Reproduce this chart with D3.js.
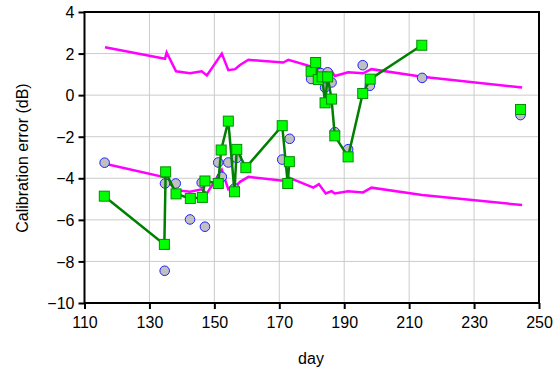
<!DOCTYPE html>
<html>
<head>
<meta charset="utf-8">
<script src="https://cdn.jsdelivr.net/npm/d3@7"></script>
<style>
  body { margin: 0; background: #fff; }
  text { font-family: "Liberation Sans", Arial, sans-serif; }
</style>
</head>
<body>
<svg id="chart" width="560" height="371"></svg>
<script>
// tick values
const xTicks = [110, 130, 150, 170, 190, 210, 230, 250];
const yTicks = [4, 2, 0, -2, -4, -6, -8, -10];

// magenta envelope (shared days)
const boundDays  = [116.3, 134.8, 135.3, 138.2, 142.5, 146.1, 147.7, 152.3, 154.3, 156.4, 157.9, 160.5, 171.2, 172.8, 180.5, 182.2, 184.3, 186.1, 187.1, 191.2, 195.8, 198.4, 214.0, 244.8];
const upperBound = [2.3, 1.75, 2.05, 1.15, 1.05, 1.15, 0.95, 2.0, 1.2, 1.25, 1.45, 1.7, 1.57, 1.7, 1.35, 1.25, 1.1, 1.15, 0.92, 1.1, 1.05, 1.25, 0.88, 0.37];
const lowerBound = [-3.3, -3.95, -4.1, -4.57, -4.65, -4.53, -4.73, -3.6, -4.53, -4.4, -4.17, -3.93, -4.12, -3.96, -4.45, -4.28, -4.73, -4.62, -4.73, -4.62, -4.68, -4.45, -4.8, -5.29];

// circles
const circleDays = [116.2, 134.7, 134.8, 138.1, 142.5, 146.1, 147.1, 151.2, 152.3, 154.3, 156.2, 156.9, 170.9, 173.2, 179.8, 182.8, 184.1, 184.9, 186.1, 187.1, 191.2, 195.7, 197.9, 214.0, 244.3];
const circleVals = [-3.25, -8.45, -4.25, -4.25, -5.98, -4.21, -6.33, -3.24, -3.93, -3.24, -4.49, -3.02, -3.1, -2.1, 0.78, 1.06, 0.36, 1.1, 0.61, -1.78, -2.6, 1.44, 0.45, 0.83, -0.96];

// squares, null = break in line
const squareDays = [116.1, 134.6, 135.0, 138.2, 142.6, 146.3, 147.1, 151.2, 152.1, 154.3, 156.2, 156.9, 159.7, 170.9, 172.6, 173.1, null,
                    179.8, 181.2, 182.0, 183.2, 184.1, 184.9, 186.1, 187.1, 191.2, 195.7, 198.0, 213.9, null, 244.3];
const squareVals = [-4.86, -7.18, -3.69, -4.75, -4.97, -4.92, -4.13, -4.25, -2.64, -1.25, -4.65, -2.61, -3.49, -1.47, -4.25, -3.2, null,
                    1.15, 1.57, 0.75, 0.88, -0.37, 0.88, -0.19, -1.96, -2.97, 0.08, 0.77, 2.4, null, -0.69];

const plotL = 84.5, plotR = 539, plotT = 12, plotB = 303;

const svg = d3.select('#chart');
const x = d3.scaleLinear().domain([110, 250]).range([plotL, plotR]);
const y = d3.scaleLinear().domain([-10, 4]).range([plotB, plotT]);

// grid
svg.append('g')
  .selectAll('line')
  .data(xTicks.slice(1, -1))
  .enter().append('line')
  .attr('x1', d => x(d)).attr('x2', d => x(d))
  .attr('y1', plotT).attr('y2', plotB)
  .attr('stroke', '#cccccc').attr('stroke-width', 1);
svg.append('g')
  .selectAll('line')
  .data(yTicks.slice(1, -1))
  .enter().append('line')
  .attr('x1', plotL).attr('x2', plotR)
  .attr('y1', d => y(d)).attr('y2', d => y(d))
  .attr('stroke', '#cccccc').attr('stroke-width', 1);

// axes
const xAxis = d3.axisBottom(x).tickValues(xTicks).tickSize(6).tickPadding(8).tickFormat(d3.format('d'));
const yAxis = d3.axisLeft(y).tickValues(yTicks).tickSize(6).tickPadding(4).tickFormat(d3.format('d'));

const gx = svg.append('g').attr('transform', `translate(0,${plotB})`).call(xAxis);
const gy = svg.append('g').attr('transform', `translate(${plotL},0)`).call(yAxis);
[gx, gy].forEach(g => {
  g.select('.domain').remove();
  g.selectAll('line').attr('stroke', '#000').attr('stroke-width', 2);
  g.selectAll('text').attr('font-size', 16).attr('fill', '#000')
    .style('font-family', '"Liberation Sans", Arial, sans-serif');
});
gy.selectAll('text').attr('dy', '0.35em');

// frame
svg.append('rect')
  .attr('x', plotL).attr('y', plotT)
  .attr('width', plotR - plotL).attr('height', plotB - plotT)
  .attr('fill', 'none').attr('stroke', '#000').attr('stroke-width', 2);

// envelope lines
const bandLine = d3.line().x(d => x(d[0])).y(d => y(d[1]));
[upperBound, lowerBound].forEach(vals => {
  svg.append('path')
    .datum(boundDays.map((d, i) => [d, vals[i]]))
    .attr('d', bandLine)
    .attr('fill', 'none')
    .attr('stroke', '#ff00ff')
    .attr('stroke-width', 2.5);
});

// circles
svg.append('g')
  .selectAll('circle')
  .data(circleDays.map((d, i) => [d, circleVals[i]]))
  .enter().append('circle')
  .attr('cx', d => x(d[0]))
  .attr('cy', d => y(d[1]))
  .attr('r', 4.8)
  .attr('fill', '#c0c0c0')
  .attr('stroke', '#2020ff')
  .attr('stroke-width', 1);

// green line + squares
const sq = squareDays.map((d, i) => [d, squareVals[i]]);
svg.append('path')
  .datum(sq)
  .attr('d', d3.line().defined(d => d[0] !== null).x(d => x(d[0])).y(d => y(d[1])))
  .attr('fill', 'none')
  .attr('stroke', '#008000')
  .attr('stroke-width', 2.5);

svg.append('g')
  .selectAll('rect')
  .data(sq.filter(d => d[0] !== null))
  .enter().append('rect')
  .attr('x', d => x(d[0]) - 5)
  .attr('y', d => y(d[1]) - 5)
  .attr('width', 10).attr('height', 10)
  .attr('fill', '#00ff00')
  .attr('stroke', '#009000')
  .attr('stroke-width', 1);

// titles
svg.append('text')
  .attr('x', 311).attr('y', 364)
  .attr('text-anchor', 'middle')
  .attr('font-size', 16)
  .text('day');
svg.append('text')
  .attr('transform', 'translate(28,158) rotate(-90)')
  .attr('text-anchor', 'middle')
  .attr('font-size', 16)
  .text('Calibration error (dB)');
</script>
</body>
</html>
